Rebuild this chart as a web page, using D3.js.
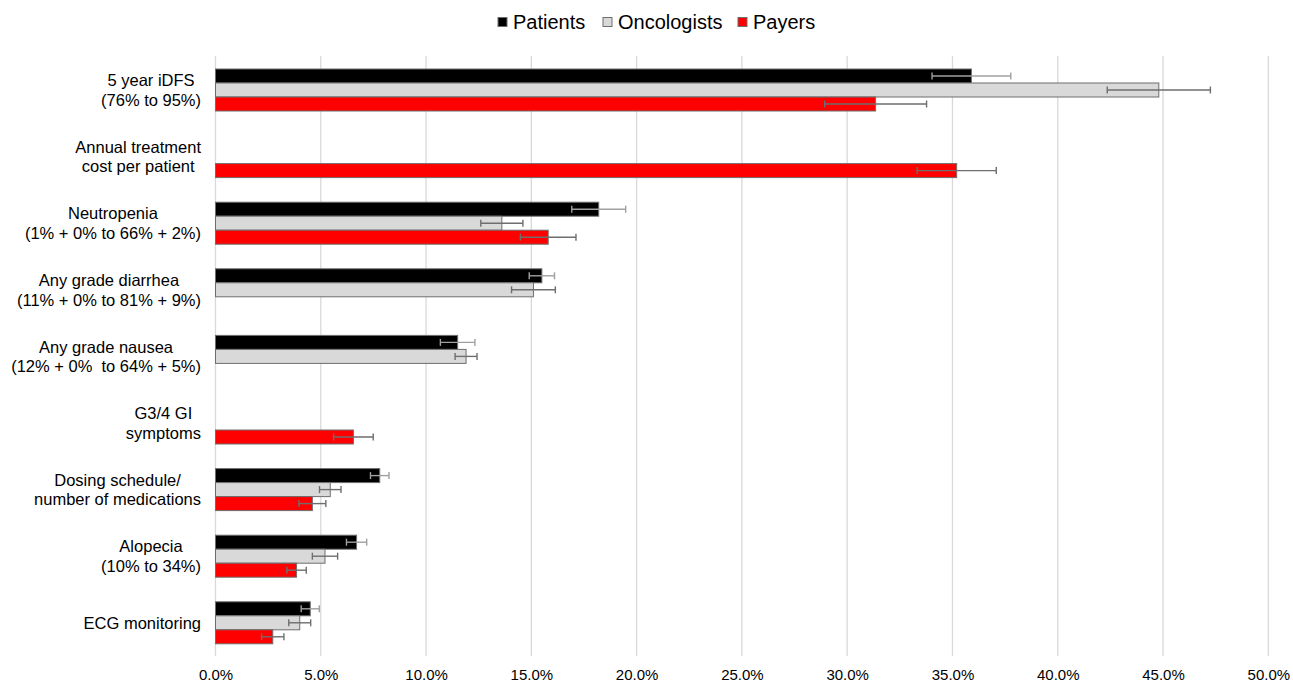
<!DOCTYPE html>
<html>
<head>
<meta charset="utf-8">
<script src="https://cdn.jsdelivr.net/npm/d3@7"></script>
<style>
    body { margin: 0; background: #fff; }
    text { font-family: "Liberation Sans", Arial, sans-serif; fill: #000; }
</style>
</head>
<body>
<div id="chart"></div>
<script>
var categories = [
    ["5 year iDFS", "(76% to 95%)"],
    ["Annual treatment", "cost per patient"],
    ["Neutropenia", "(1% + 0% to 66% + 2%)"],
    ["Any grade diarrhea", "(11% + 0% to 81% + 9%)"],
    ["Any grade nausea", "(12% + 0%  to 64% + 5%)"],
    ["G3/4 GI", "symptoms"],
    ["Dosing schedule/", "number of medications"],
    ["Alopecia", "(10% to 34%)"],
    ["ECG monitoring"]
];
var seriesNames = ["Patients", "Oncologists", "Payers"];

var patients = [35.9, null, 18.2, 15.5, 11.5, null, 7.8, 6.7, 4.5];
var patientsErr = [1.87, null, 1.28, 0.6, 0.82, null, 0.44, 0.48, 0.43];
var oncologists = [44.8, null, 13.6, 15.1, 11.9, null, 5.45, 5.2, 4.0];
var oncologistsErr = [2.45, null, 1.0, 1.04, 0.52, null, 0.51, 0.6, 0.52];
var payers = [31.35, 35.2, 15.8, null, null, 6.55, 4.6, 3.85, 2.72];
var payersErr = [2.42, 1.88, 1.32, null, null, 0.94, 0.64, 0.46, 0.53];

var xTicks = [0, 5, 10, 15, 20, 25, 30, 35, 40, 45, 50];

var seriesValues = [patients, oncologists, payers];
var seriesErrs = [patientsErr, oncologistsErr, payersErr];
var seriesFill = ["#000000", "#d9d9d9", "#ff0000"];
var seriesErrColor = ["#a0a0a0", "#6e6e6e", "#6e6e6e"];

var width = 1293,
    height = 683;

var x = d3.scaleLinear()
    .domain([0, 50])
    .range([215.5, 1268.3]);

var catIdx = categories.map(function (d, i) { return i; });

var y = d3.scaleBand()
    .domain(catIdx)
    .range([56.7, 656.1]);

var ySub = d3.scaleBand()
    .domain([0, 1, 2])
    .range([(y.bandwidth() - 42) / 2, (y.bandwidth() + 42) / 2]);

var svg = d3.select('#chart')
    .append('svg')
    .attr('width', width)
    .attr('height', height);

// grid
svg.append('g')
    .selectAll('line')
    .data(xTicks)
    .enter().append('line')
    .attr('x1', function (d) { return x(d); })
    .attr('x2', function (d) { return x(d); })
    .attr('y1', 56)
    .attr('y2', 656)
    .attr('stroke', '#d9d9d9')
    .attr('stroke-width', 1.3);

// x axis labels
var xAxis = d3.axisBottom(x)
    .tickValues(xTicks)
    .tickSize(0)
    .tickPadding(0)
    .tickFormat(function (d) { return d.toFixed(1) + '%'; });

var xg = svg.append('g')
    .attr('transform', 'translate(0,669)')
    .call(xAxis);
xg.select('.domain').remove();
xg.selectAll('text')
    .attr('font-size', 15)
    .attr('font-family', '"Liberation Sans", Arial, sans-serif')
    .attr('fill', '#000');

// bars
var rows = [];
seriesValues.forEach(function (vals, s) {
    vals.forEach(function (v, i) {
        if (v !== null) {
            rows.push({ s: s, i: i, v: v, e: seriesErrs[s][i] });
        }
    });
});

var g = svg.append('g');

g.selectAll('rect')
    .data(rows)
    .enter().append('rect')
    .attr('x', x(0))
    .attr('y', function (d) { return y(d.i) + ySub(d.s); })
    .attr('width', function (d) { return x(d.v) - x(0); })
    .attr('height', ySub.bandwidth())
    .attr('fill', function (d) { return seriesFill[d.s]; })
    .attr('stroke', '#6e6e6e')
    .attr('stroke-width', 1);

var eb = g.selectAll('.err')
    .data(rows)
    .enter().append('g')
    .attr('class', 'err')
    .attr('stroke', function (d) { return seriesErrColor[d.s]; })
    .attr('stroke-width', 1.4);

function midY(d) {
    return y(d.i) + ySub(d.s) + ySub.bandwidth() / 2;
}

eb.append('line')
    .attr('x1', function (d) { return x(d.v - d.e); })
    .attr('x2', function (d) { return x(d.v + d.e); })
    .attr('y1', midY)
    .attr('y2', midY);

eb.append('line')
    .attr('x1', function (d) { return x(d.v - d.e); })
    .attr('x2', function (d) { return x(d.v - d.e); })
    .attr('y1', function (d) { return midY(d) - 3.5; })
    .attr('y2', function (d) { return midY(d) + 3.5; });

eb.append('line')
    .attr('x1', function (d) { return x(d.v + d.e); })
    .attr('x2', function (d) { return x(d.v + d.e); })
    .attr('y1', function (d) { return midY(d) - 3.5; })
    .attr('y2', function (d) { return midY(d) + 3.5; });

// category labels: block right aligned, lines centred within block
var labels = svg.append('g')
    .selectAll('g')
    .data(categories)
    .enter().append('g');

labels.each(function (lines, i) {
    var el = d3.select(this);
    var cy = y(i) + y.bandwidth() / 2;
    var texts = el.selectAll('text')
        .data(lines)
        .enter().append('text')
        .attr('font-size', 16.5)
        .attr('dominant-baseline', 'central')
        .style('white-space', 'pre')
        .attr('y', function (d, k) { return cy + (k - (lines.length - 1) / 2) * 19.5; })
        .text(function (d) { return d; });
    var maxW = 0;
    texts.each(function () {
        maxW = Math.max(maxW, this.getComputedTextLength());
    });
    texts
        .attr('text-anchor', 'middle')
        .attr('x', 201 - maxW / 2);
});

// legend
var legendX = [498, 603, 738];
var legend = svg.append('g')
    .selectAll('g')
    .data(seriesNames)
    .enter().append('g')
    .attr('transform', function (d, i) { return 'translate(' + legendX[i] + ',22)'; });

legend.append('rect')
    .attr('x', 0)
    .attr('y', -4.5)
    .attr('width', 9)
    .attr('height', 9)
    .attr('fill', function (d, i) { return seriesFill[i]; })
    .attr('stroke', '#6e6e6e')
    .attr('stroke-width', 1);

legend.append('text')
    .attr('x', 15)
    .attr('y', 0)
    .attr('dominant-baseline', 'central')
    .attr('font-size', 20)
    .text(function (d) { return d; });
</script>
</body>
</html>
